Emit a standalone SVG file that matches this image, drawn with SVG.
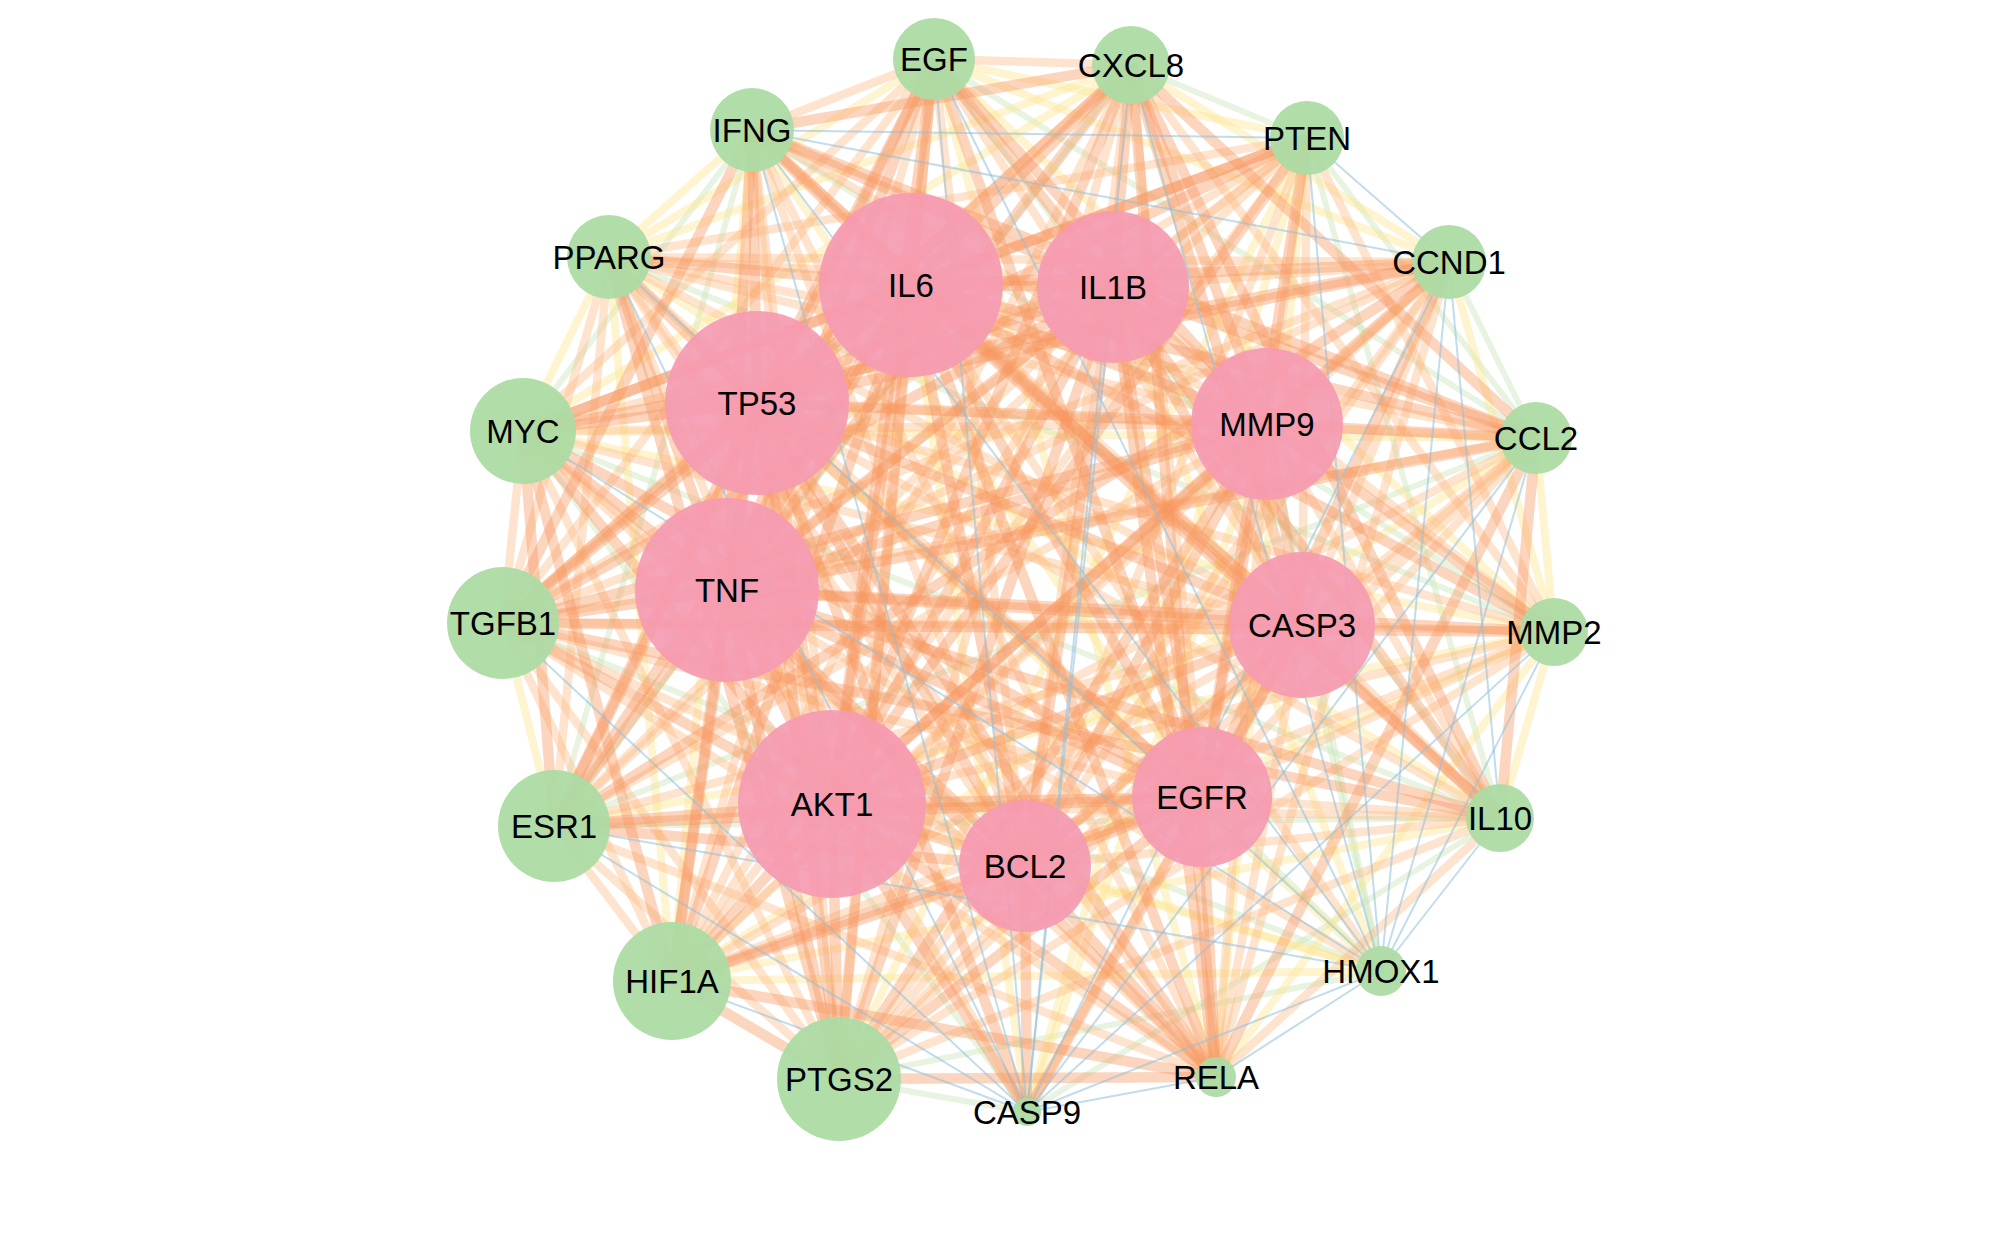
<svg xmlns="http://www.w3.org/2000/svg" width="2000" height="1257" viewBox="0 0 2000 1257">
<style>
path{fill:none}
.a{stroke:#F7955E;stroke-opacity:.4;stroke-width:10.5}
.b{stroke:#FBB47A;stroke-opacity:.36;stroke-width:8.5}
.c{stroke:#FCE58E;stroke-opacity:.42;stroke-width:8}
.d{stroke:#C8E5B8;stroke-opacity:.42;stroke-width:6}
.e{stroke:#8FBFDB;stroke-opacity:.55;stroke-width:2}
.pk{fill:#F59BB1;fill-opacity:.93}
.gr{fill:#ADDBA4;fill-opacity:.95}
text{font-family:"Liberation Sans",Arial,sans-serif;font-size:33px;fill:#000;text-anchor:middle}
</style>
<rect width="2000" height="1257" fill="#fff"/>
<g id="edges">
<g class="d">
<path d="M934 59L1536 438"/><path d="M934 59L1500 818"/><path d="M1131 65L1307 138"/><path d="M1131 65L554 826"/><path d="M1307 138L1536 438"/><path d="M1307 138L1500 818"/><path d="M1449 262L1536 438"/><path d="M1536 438L554 826"/><path d="M1554 632L609 257"/><path d="M1554 632L752 130"/><path d="M1500 818L1027 1112"/><path d="M1500 818L554 826"/><path d="M1500 818L523 431"/><path d="M1381 971L839 1079"/><path d="M1381 971L503 623"/><path d="M1027 1112L839 1079"/><path d="M1027 1112L523 431"/><path d="M554 826L752 130"/><path d="M523 431L752 130"/>
<path d="M1381 971L1302 625"/><path d="M1381 971L1267 424"/><path d="M1381 971L1202 797"/>
</g>
<g class="c">
<path d="M934 59L1307 138"/><path d="M934 59L1449 262"/><path d="M934 59L1554 632"/><path d="M934 59L1216 1077"/><path d="M934 59L609 257"/><path d="M1131 65L1449 262"/><path d="M1131 65L523 431"/><path d="M1131 65L609 257"/><path d="M1307 138L1216 1077"/><path d="M1307 138L1027 1112"/><path d="M1307 138L839 1079"/><path d="M1449 262L1554 632"/><path d="M1536 438L1554 632"/><path d="M1536 438L672 981"/><path d="M1536 438L523 431"/><path d="M1554 632L1500 818"/><path d="M1554 632L1216 1077"/><path d="M1554 632L554 826"/><path d="M1554 632L523 431"/><path d="M1500 818L672 981"/><path d="M1500 818L609 257"/><path d="M1381 971L672 981"/><path d="M672 981L609 257"/><path d="M672 981L752 130"/><path d="M554 826L503 623"/><path d="M523 431L609 257"/><path d="M609 257L752 130"/>
<path d="M1554 632L1025 866"/><path d="M1381 971L832 804"/><path d="M1381 971L1113 287"/><path d="M1381 971L1025 866"/><path d="M1381 971L757 403"/><path d="M1027 1112L911 285"/><path d="M1027 1112L1267 424"/><path d="M752 130L1202 797"/>
</g>
<g class="b">
<path d="M934 59L1131 65"/><path d="M934 59L839 1079"/><path d="M934 59L672 981"/><path d="M934 59L503 623"/><path d="M934 59L523 431"/><path d="M934 59L752 130"/><path d="M1131 65L1554 632"/><path d="M1131 65L672 981"/><path d="M1131 65L503 623"/><path d="M1307 138L1554 632"/><path d="M1307 138L554 826"/><path d="M1307 138L503 623"/><path d="M1307 138L609 257"/><path d="M1449 262L1216 1077"/><path d="M1449 262L839 1079"/><path d="M1449 262L672 981"/><path d="M1449 262L503 623"/><path d="M1449 262L609 257"/><path d="M1536 438L839 1079"/><path d="M1536 438L609 257"/><path d="M1554 632L839 1079"/><path d="M1554 632L672 981"/><path d="M1500 818L1216 1077"/><path d="M1500 818L839 1079"/><path d="M1216 1077L554 826"/><path d="M1216 1077L503 623"/><path d="M1216 1077L523 431"/><path d="M1216 1077L609 257"/><path d="M1216 1077L752 130"/><path d="M839 1079L554 826"/><path d="M839 1079L503 623"/><path d="M839 1079L523 431"/><path d="M839 1079L752 130"/><path d="M672 981L554 826"/><path d="M672 981L503 623"/><path d="M554 826L609 257"/><path d="M503 623L523 431"/><path d="M503 623L609 257"/>
<path d="M934 59L1302 625"/><path d="M934 59L1025 866"/><path d="M1131 65L1202 797"/><path d="M1131 65L1025 866"/><path d="M1307 138L1025 866"/><path d="M1307 138L1302 625"/><path d="M1307 138L1267 424"/><path d="M1307 138L1113 287"/><path d="M1449 262L727 590"/><path d="M1449 262L1267 424"/><path d="M1449 262L1302 625"/><path d="M1449 262L1113 287"/><path d="M1536 438L757 403"/><path d="M1536 438L832 804"/><path d="M1536 438L1302 625"/><path d="M1536 438L1202 797"/><path d="M1536 438L1025 866"/><path d="M1554 632L832 804"/><path d="M1554 632L1202 797"/><path d="M1554 632L1302 625"/><path d="M1554 632L1113 287"/><path d="M1500 818L1302 625"/><path d="M1500 818L832 804"/><path d="M1500 818L757 403"/><path d="M1500 818L1025 866"/><path d="M1500 818L1202 797"/><path d="M1500 818L1267 424"/><path d="M1381 971L911 285"/><path d="M1381 971L727 590"/><path d="M1216 1077L1267 424"/><path d="M1216 1077L1302 625"/><path d="M1027 1112L727 590"/><path d="M1027 1112L1202 797"/><path d="M839 1079L1302 625"/><path d="M839 1079L1025 866"/><path d="M672 981L1113 287"/><path d="M672 981L1302 625"/><path d="M554 826L1267 424"/><path d="M554 826L1302 625"/><path d="M554 826L1113 287"/><path d="M503 623L1302 625"/><path d="M503 623L1025 866"/><path d="M523 431L1302 625"/><path d="M523 431L1267 424"/><path d="M523 431L1113 287"/><path d="M609 257L1113 287"/><path d="M609 257L1267 424"/><path d="M609 257L1202 797"/><path d="M609 257L1025 866"/><path d="M609 257L1302 625"/><path d="M752 130L1302 625"/><path d="M752 130L832 804"/><path d="M752 130L1267 424"/><path d="M752 130L1025 866"/>
<path d="M1307 138L727 590"/><path d="M1449 262L1025 866"/><path d="M1554 632L757 403"/><path d="M672 981L1267 424"/><path d="M523 431L1025 866"/><path d="M609 257L832 804"/><path d="M1536 438L503 623"/><path d="M1131 65L839 1079"/><path d="M1307 138L672 981"/><path d="M503 623L1202 797"/>
</g>
<g class="a">
<path d="M911 285L1113 287"/><path d="M911 285L757 403"/><path d="M911 285L1267 424"/><path d="M911 285L727 590"/><path d="M911 285L1302 625"/><path d="M911 285L832 804"/><path d="M911 285L1202 797"/><path d="M911 285L1025 866"/><path d="M1113 287L757 403"/><path d="M1113 287L1267 424"/><path d="M1113 287L727 590"/><path d="M1113 287L1302 625"/><path d="M1113 287L832 804"/><path d="M1113 287L1202 797"/><path d="M1113 287L1025 866"/><path d="M757 403L1267 424"/><path d="M757 403L727 590"/><path d="M757 403L1302 625"/><path d="M757 403L832 804"/><path d="M757 403L1202 797"/><path d="M757 403L1025 866"/><path d="M1267 424L727 590"/><path d="M1267 424L1302 625"/><path d="M1267 424L832 804"/><path d="M1267 424L1202 797"/><path d="M1267 424L1025 866"/><path d="M727 590L1302 625"/><path d="M727 590L832 804"/><path d="M727 590L1202 797"/><path d="M727 590L1025 866"/><path d="M1302 625L832 804"/><path d="M1302 625L1202 797"/><path d="M1302 625L1025 866"/><path d="M832 804L1202 797"/><path d="M832 804L1025 866"/><path d="M1202 797L1025 866"/>
<path d="M934 59L911 285"/><path d="M934 59L757 403"/><path d="M934 59L727 590"/><path d="M934 59L832 804"/><path d="M934 59L1202 797"/><path d="M934 59L1267 424"/><path d="M934 59L1113 287"/>
<path d="M1131 65L911 285"/><path d="M1131 65L1113 287"/><path d="M1131 65L727 590"/><path d="M1131 65L1267 424"/><path d="M1131 65L757 403"/><path d="M1131 65L832 804"/><path d="M1131 65L1302 625"/>
<path d="M1307 138L832 804"/><path d="M1307 138L757 403"/><path d="M1307 138L1202 797"/><path d="M1307 138L911 285"/>
<path d="M1449 262L757 403"/><path d="M1449 262L832 804"/><path d="M1449 262L1202 797"/><path d="M1449 262L911 285"/>
<path d="M1536 438L911 285"/><path d="M1536 438L1113 287"/><path d="M1536 438L727 590"/><path d="M1536 438L1267 424"/>
<path d="M1554 632L1267 424"/><path d="M1554 632L727 590"/><path d="M1554 632L911 285"/>
<path d="M1500 818L911 285"/><path d="M1500 818L727 590"/><path d="M1500 818L1113 287"/>
<path d="M1216 1077L727 590"/><path d="M1216 1077L911 285"/><path d="M1216 1077L1113 287"/><path d="M1216 1077L832 804"/><path d="M1216 1077L1025 866"/><path d="M1216 1077L757 403"/><path d="M1216 1077L1202 797"/>
<path d="M1027 1112L1302 625"/><path d="M1027 1112L1025 866"/><path d="M1027 1112L832 804"/><path d="M1027 1112L757 403"/>
<path d="M839 1079L911 285"/><path d="M839 1079L727 590"/><path d="M839 1079L1113 287"/><path d="M839 1079L832 804"/><path d="M839 1079L757 403"/><path d="M839 1079L1202 797"/><path d="M839 1079L1267 424"/>
<path d="M672 981L832 804"/><path d="M672 981L757 403"/><path d="M672 981L1202 797"/><path d="M672 981L911 285"/><path d="M672 981L727 590"/><path d="M672 981L1025 866"/>
<path d="M554 826L832 804"/><path d="M554 826L757 403"/><path d="M554 826L1202 797"/><path d="M554 826L911 285"/><path d="M554 826L1025 866"/><path d="M554 826L727 590"/>
<path d="M503 623L727 590"/><path d="M503 623L911 285"/><path d="M503 623L1113 287"/><path d="M503 623L757 403"/><path d="M503 623L832 804"/><path d="M503 623L1267 424"/>
<path d="M523 431L757 403"/><path d="M523 431L832 804"/><path d="M523 431L1202 797"/><path d="M523 431L727 590"/><path d="M523 431L911 285"/>
<path d="M609 257L727 590"/><path d="M609 257L911 285"/><path d="M609 257L757 403"/>
<path d="M752 130L911 285"/><path d="M752 130L727 590"/><path d="M752 130L1113 287"/><path d="M752 130L757 403"/>
<path d="M934 59L554 826"/><path d="M1131 65L1536 438"/><path d="M1131 65L1500 818"/><path d="M1131 65L1216 1077"/><path d="M1131 65L752 130"/><path d="M1307 138L523 431"/><path d="M1449 262L554 826"/><path d="M1449 262L523 431"/><path d="M1536 438L1500 818"/><path d="M1536 438L1216 1077"/><path d="M1536 438L752 130"/><path d="M1554 632L503 623"/><path d="M1500 818L503 623"/><path d="M1500 818L752 130"/><path d="M1216 1077L839 1079"/><path d="M1216 1077L672 981"/><path d="M839 1079L672 981"/><path d="M839 1079L609 257"/><path d="M672 981L523 431"/><path d="M554 826L523 431"/><path d="M503 623L752 130"/>
</g>
<g class="e">
<path d="M934 59L1381 971"/><path d="M934 59L1027 1112"/><path d="M1131 65L1381 971"/><path d="M1131 65L1027 1112"/><path d="M1307 138L1449 262"/><path d="M1307 138L1381 971"/><path d="M1307 138L752 130"/><path d="M1449 262L1500 818"/><path d="M1449 262L1381 971"/><path d="M1449 262L1027 1112"/><path d="M1449 262L752 130"/><path d="M1536 438L1381 971"/><path d="M1536 438L1027 1112"/><path d="M1554 632L1381 971"/><path d="M1554 632L1027 1112"/><path d="M1500 818L1381 971"/><path d="M1381 971L1216 1077"/><path d="M1381 971L1027 1112"/><path d="M1381 971L554 826"/><path d="M1381 971L523 431"/><path d="M1381 971L609 257"/><path d="M1381 971L752 130"/><path d="M1216 1077L1027 1112"/><path d="M1027 1112L672 981"/><path d="M1027 1112L554 826"/><path d="M1027 1112L503 623"/><path d="M1027 1112L609 257"/><path d="M1027 1112L752 130"/><path d="M1027 1112L1113 287"/>
</g>
</g>
<g id="nodes">
<g id="node-IL6"><circle class="pk" cx="911" cy="285" r="92"/><text x="911" y="297">IL6</text></g>
<g id="node-IL1B"><circle class="pk" cx="1113" cy="287" r="76"/><text x="1113" y="299">IL1B</text></g>
<g id="node-TP53"><circle class="pk" cx="757" cy="403" r="92"/><text x="757" y="415">TP53</text></g>
<g id="node-MMP9"><circle class="pk" cx="1267" cy="424" r="76"/><text x="1267" y="436">MMP9</text></g>
<g id="node-TNF"><circle class="pk" cx="727" cy="590" r="92"/><text x="727" y="602">TNF</text></g>
<g id="node-CASP3"><circle class="pk" cx="1302" cy="625" r="73"/><text x="1302" y="637">CASP3</text></g>
<g id="node-AKT1"><circle class="pk" cx="832" cy="804" r="94"/><text x="832" y="816">AKT1</text></g>
<g id="node-EGFR"><circle class="pk" cx="1202" cy="797" r="70"/><text x="1202" y="809">EGFR</text></g>
<g id="node-BCL2"><circle class="pk" cx="1025" cy="866" r="66"/><text x="1025" y="878">BCL2</text></g>
<g id="node-EGF"><circle class="gr" cx="934" cy="59" r="41"/><text x="934" y="71">EGF</text></g>
<g id="node-CXCL8"><circle class="gr" cx="1131" cy="65" r="39"/><text x="1131" y="77">CXCL8</text></g>
<g id="node-PTEN"><circle class="gr" cx="1307" cy="138" r="37"/><text x="1307" y="150">PTEN</text></g>
<g id="node-CCND1"><circle class="gr" cx="1449" cy="262" r="37"/><text x="1449" y="274">CCND1</text></g>
<g id="node-CCL2"><circle class="gr" cx="1536" cy="438" r="36"/><text x="1536" y="450">CCL2</text></g>
<g id="node-MMP2"><circle class="gr" cx="1554" cy="632" r="34"/><text x="1554" y="644">MMP2</text></g>
<g id="node-IL10"><circle class="gr" cx="1500" cy="818" r="34"/><text x="1500" y="830">IL10</text></g>
<g id="node-HMOX1"><circle class="gr" cx="1381" cy="971" r="25"/><text x="1381" y="983">HMOX1</text></g>
<g id="node-RELA"><circle class="gr" cx="1216" cy="1077" r="20"/><text x="1216" y="1089">RELA</text></g>
<g id="node-CASP9"><circle class="gr" cx="1027" cy="1112" r="14"/><text x="1027" y="1124">CASP9</text></g>
<g id="node-PTGS2"><circle class="gr" cx="839" cy="1079" r="62"/><text x="839" y="1091">PTGS2</text></g>
<g id="node-HIF1A"><circle class="gr" cx="672" cy="981" r="59"/><text x="672" y="993">HIF1A</text></g>
<g id="node-ESR1"><circle class="gr" cx="554" cy="826" r="56"/><text x="554" y="838">ESR1</text></g>
<g id="node-TGFB1"><circle class="gr" cx="503" cy="623" r="56"/><text x="503" y="635">TGFB1</text></g>
<g id="node-MYC"><circle class="gr" cx="523" cy="431" r="53"/><text x="523" y="443">MYC</text></g>
<g id="node-PPARG"><circle class="gr" cx="609" cy="257" r="42"/><text x="609" y="269">PPARG</text></g>
<g id="node-IFNG"><circle class="gr" cx="752" cy="130" r="42"/><text x="752" y="142">IFNG</text></g>
</g>
</svg>
